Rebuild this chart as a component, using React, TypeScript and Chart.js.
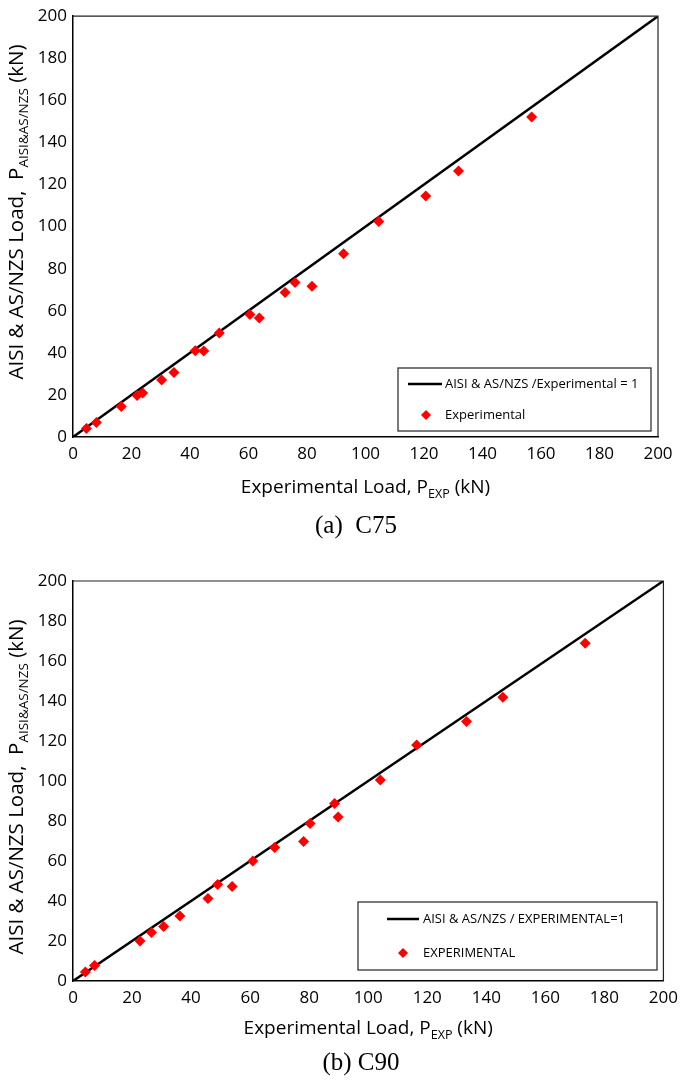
import React, { useEffect, useRef } from "react";
import { Chart, registerables } from "chart.js";

Chart.register(...registerables);

// ---------- data ----------
const c75Experimental = [4.6, 8.0, 16.5, 21.9, 23.8, 30.3, 34.5, 41.8, 44.7, 50.0, 60.5, 63.7, 72.5, 75.9, 81.7, 92.5, 104.5, 120.6, 131.8, 156.8];
const c75Predicted = [4.0, 6.9, 14.5, 19.7, 20.9, 27.1, 30.7, 41.0, 40.9, 49.4, 58.2, 56.5, 68.7, 73.4, 71.7, 87.1, 102.4, 114.6, 126.4, 152.1];

const c90Experimental = [4.2, 7.3, 22.7, 26.6, 30.7, 36.2, 45.7, 49.0, 53.9, 60.9, 68.3, 78.1, 80.3, 88.6, 89.8, 104.1, 116.4, 133.3, 145.6, 173.5];
const c90Predicted = [4.5, 7.7, 20.0, 24.2, 27.3, 32.5, 41.3, 48.2, 47.2, 60.0, 66.7, 69.8, 78.8, 88.8, 82.0, 100.5, 118.0, 129.7, 141.9, 168.9];

const equalityX = [0, 200];
const equalityY = [0, 200];

const axisMin = 0;
const axisMax = 200;
const tickStep = 20;

const xTitleParts = ["Experimental Load, P", "EXP", " (kN)"];
const yTitleParts = ["AISI & AS/NZS Load,  P", "AISI&AS/NZS", " (kN)"];

const SANS = '"Open Sans", sans-serif';
const PAGE_W = 685;

type Area = { left: number; right: number; top: number; bottom: number };
type LegendSpec = {
  box: { x: number; y: number; w: number; h: number };
  lineX1: number;
  lineX2: number;
  row1Y: number;
  row2Y: number;
  diamondX: number;
  textX: number;
};

type PanelProps = {
  top: number;
  height: number;
  area: Area;
  xs: number[];
  ys: number[];
  lineLabel: string;
  pointLabel: string;
  xTitleBaseline: number;
  yTitleBaselineX: number;
  yTitleCenterY: number;
  legend: LegendSpec;
  caption: string;
  captionCenterX: number;
  captionCenterY: number;
};

function drawTitle(ctx: CanvasRenderingContext2D, parts: string[], cx: number, baseline: number, size: number, subSize: number) {
  const main = `${size}px ${SANS}`;
  const sub = `${subSize}px ${SANS}`;
  ctx.font = main;
  const w0 = ctx.measureText(parts[0]).width;
  const w2 = ctx.measureText(parts[2]).width;
  ctx.font = sub;
  const w1 = ctx.measureText(parts[1]).width;
  const total = w0 + w1 + w2;
  let x = cx - total / 2;
  ctx.fillStyle = "#000";
  ctx.textAlign = "left";
  ctx.textBaseline = "alphabetic";
  ctx.font = main;
  ctx.fillText(parts[0], x, baseline);
  x += w0;
  ctx.font = sub;
  ctx.fillText(parts[1], x, baseline + 5);
  x += w1;
  ctx.font = main;
  ctx.fillText(parts[2], x, baseline);
}

function Panel(p: PanelProps) {
  const ref = useRef<HTMLCanvasElement | null>(null);

  useEffect(() => {
    if (!ref.current) return;
    const decorations = {
      id: "decorations",
      afterDraw(chart: any) {
        const ctx: CanvasRenderingContext2D = chart.ctx;
        const ca = chart.chartArea;
        ctx.save();
        // top & right frame
        ctx.strokeStyle = "#222";
        ctx.lineWidth = 1.2;
        ctx.beginPath();
        ctx.moveTo(ca.left, ca.top);
        ctx.lineTo(ca.right, ca.top);
        ctx.lineTo(ca.right, ca.bottom);
        ctx.stroke();

        // axis titles
        drawTitle(ctx, xTitleParts, (ca.left + ca.right) / 2, p.xTitleBaseline, 19, 12.5);
        ctx.save();
        ctx.translate(p.yTitleBaselineX, p.yTitleCenterY);
        ctx.rotate(-Math.PI / 2);
        drawTitle(ctx, yTitleParts, 0, 0, 20.5, 13.5);
        ctx.restore();

        // legend
        const L = p.legend;
        ctx.fillStyle = "#fff";
        ctx.fillRect(L.box.x, L.box.y, L.box.w, L.box.h);
        ctx.strokeStyle = "#333";
        ctx.lineWidth = 1.3;
        ctx.strokeRect(L.box.x, L.box.y, L.box.w, L.box.h);
        const ds = chart.data.datasets;
        ctx.strokeStyle = "#000";
        ctx.lineWidth = 2.5;
        ctx.beginPath();
        ctx.moveTo(L.lineX1, L.row1Y);
        ctx.lineTo(L.lineX2, L.row1Y);
        ctx.stroke();
        ctx.fillStyle = "#ff0000";
        const r = 5;
        ctx.beginPath();
        ctx.moveTo(L.diamondX - r, L.row2Y);
        ctx.lineTo(L.diamondX, L.row2Y - r);
        ctx.lineTo(L.diamondX + r, L.row2Y);
        ctx.lineTo(L.diamondX, L.row2Y + r);
        ctx.closePath();
        ctx.fill();
        ctx.fillStyle = "#000";
        ctx.font = `13px ${SANS}`;
        ctx.textAlign = "left";
        ctx.textBaseline = "middle";
        ctx.fillText(ds[1].label, L.textX, L.row1Y);
        ctx.fillText(ds[0].label, L.textX, L.row2Y);
        ctx.restore();
      },
    };

    const chart = new Chart(ref.current, {
      type: "scatter",
      data: {
        datasets: [
          {
            label: p.pointLabel,
            data: p.xs.map((x, i) => ({ x, y: p.ys[i] })),
            pointStyle: "rectRot",
            pointRadius: 5.5,
            backgroundColor: "#ff0000",
            borderColor: "#ff0000",
            borderWidth: 0,
            showLine: false,
          },
          {
            label: p.lineLabel,
            data: equalityX.map((x, i) => ({ x, y: equalityY[i] })),
            showLine: true,
            borderColor: "#000",
            borderWidth: 2.5,
            pointRadius: 0,
            backgroundColor: "#000",
          },
        ],
      },
      options: {
        animation: false,
        responsive: false,
        maintainAspectRatio: false,
        layout: {
          padding: { left: 0, right: PAGE_W - p.area.right, top: p.area.top, bottom: 0 },
        },
        plugins: { legend: { display: false }, tooltip: { enabled: false } },
        scales: {
          x: {
            type: "linear",
            min: axisMin,
            max: axisMax,
            grid: { display: false, drawTicks: false },
            border: { display: true, color: "#000", width: 1.5 },
            ticks: { stepSize: tickStep, padding: 7, color: "#000", font: { family: SANS, size: 17 } },
            afterFit: (s: any) => {
              s.height = p.height - p.area.bottom;
            },
          },
          y: {
            type: "linear",
            min: axisMin,
            max: axisMax,
            grid: { display: false, drawTicks: false },
            border: { display: true, color: "#000", width: 1.5 },
            ticks: { stepSize: tickStep, padding: 6, color: "#000", font: { family: SANS, size: 17 } },
            afterFit: (s: any) => {
              s.width = p.area.left;
            },
          },
        },
      } as any,
      plugins: [decorations],
    });
    return () => chart.destroy();
  }, []);

  return (
    <>
      <canvas
        ref={ref}
        width={PAGE_W}
        height={p.height}
        style={{ position: "absolute", left: 0, top: p.top, width: PAGE_W, height: p.height, display: "block" }}
      />
      <div
        style={{
          position: "absolute",
          left: p.captionCenterX - 120,
          width: 240,
          top: p.captionCenterY - 15,
          height: 30,
          lineHeight: "30px",
          textAlign: "center",
          fontFamily: '"Liberation Serif", "Times New Roman", serif',
          fontSize: 25,
          color: "#000",
          whiteSpace: "pre",
        }}
      >
        {p.caption}
      </div>
    </>
  );
}

export default function App() {
  return (
    <div style={{ position: "absolute", left: 0, top: 0, width: PAGE_W, height: 1082, background: "#fff" }}>
      <Panel
        top={0}
        height={545}
        area={{ left: 73, right: 658, top: 13, bottom: 437 }}
        xs={c75Experimental}
        ys={c75Predicted}
        lineLabel="AISI & AS/NZS /Experimental = 1"
        pointLabel="Experimental"
        xTitleBaseline={493}
        yTitleBaselineX={23}
        yTitleCenterY={212}
        legend={{ box: { x: 398, y: 368, w: 253, h: 63 }, lineX1: 408, lineX2: 442, row1Y: 384, row2Y: 415, diamondX: 426, textX: 445 }}
        caption="(a)  C75"
        captionCenterX={356}
        captionCenterY={525}
      />
      <Panel
        top={545}
        height={537}
        area={{ left: 73, right: 666, top: 36, bottom: 436 }}
        xs={c90Experimental}
        ys={c90Predicted}
        lineLabel="AISI & AS/NZS / EXPERIMENTAL=1"
        pointLabel="EXPERIMENTAL"
        xTitleBaseline={489}
        yTitleBaselineX={23}
        yTitleCenterY={242}
        legend={{ box: { x: 358, y: 357, w: 299, h: 68 }, lineX1: 387, lineX2: 419, row1Y: 374, row2Y: 408, diamondX: 403, textX: 423 }}
        caption="(b) C90"
        captionCenterX={361}
        captionCenterY={1062}
      />
    </div>
  );
}
